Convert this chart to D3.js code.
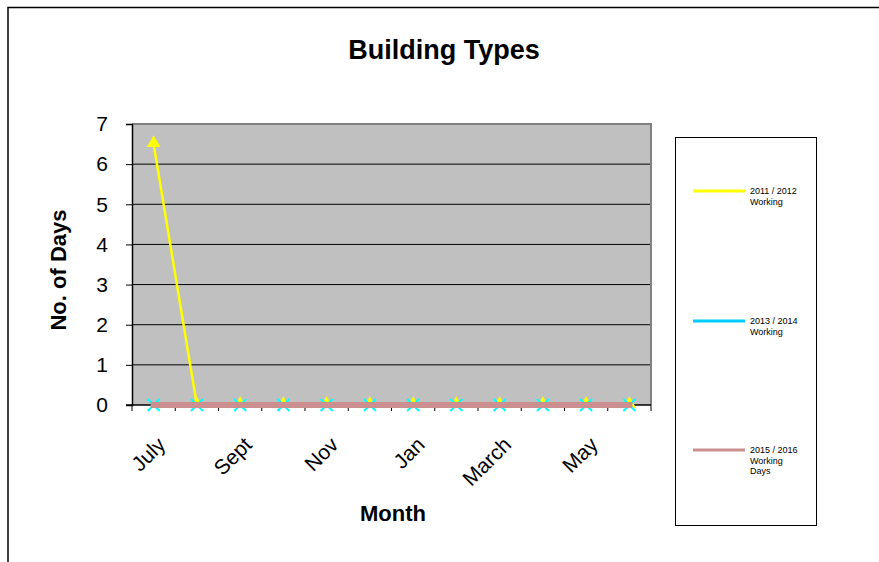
<!DOCTYPE html>
<html><head><meta charset="utf-8">
<script src="https://cdn.jsdelivr.net/npm/d3@7"></script>
<style>body{margin:0;background:#fff}svg{display:block;font-family:"Liberation Sans",Arial,sans-serif}</style>
</head><body>
<script>
const months = ["July","Aug","Sept","Oct","Nov","Dec","Jan","Feb","March","April","May","June"];
const shownLabels = ["July","Sept","Nov","Jan","March","May"];
const s2011 = [6.5,0,0,0,0,0,0,0,0,0,0,0];
const s2013 = [0,0,0,0,0,0,0,0,0,0,0,0];
const s2015 = [0,0,0,0,0,0,0,0,0,0,0,0];
const yTicks = [0,1,2,3,4,5,6,7];
const seriesNames = [["2011 / 2012","Working"],["2013 / 2014","Working"],["2015 / 2016","Working","Days"]];

const W=879,H=562;
const svg=d3.select("body").append("svg").attr("width",W).attr("height",H);
// outer frame
svg.append("path").attr("d","M8,562V7.5H879").attr("fill","none").attr("stroke","#000").attr("stroke-width",1.5);

const L=132,R=651,T=124,B=405;
const x=d3.scaleBand().domain(months).range([L,R]);
const y=d3.scaleLinear().domain([0,7]).range([B,T]);
const cx=m=>x(m)+x.bandwidth()/2;

svg.append("rect").attr("x",L).attr("y",T).attr("width",R-L).attr("height",B-T).attr("fill","#C0C0C0");
// gridlines
svg.append("g").selectAll("line").data(yTicks.filter(d=>d>0&&d<7)).join("line")
 .attr("x1",L).attr("x2",R).attr("y1",d=>y(d)).attr("y2",d=>y(d)).attr("stroke","#000").attr("stroke-width",1);
// plot border top/right
svg.append("path").attr("d",`M${L},${T}H${R}V${B}`).attr("fill","none").attr("stroke","#808080").attr("stroke-width",2);

// y axis
const ya=svg.append("g").attr("transform",`translate(${L},0)`).call(d3.axisLeft(y).tickValues(yTicks).tickSize(6).tickFormat(d3.format("d")));
ya.select(".domain").attr("stroke","#000").attr("stroke-width",1.5);
ya.selectAll(".tick line").attr("stroke","#000");
ya.selectAll("text").attr("font-size",21).attr("font-family","Liberation Sans, Arial").attr("fill","#000").attr("x",-24);

// x axis
const xa=svg.append("g").attr("transform",`translate(0,${B})`);
xa.append("line").attr("x1",L-6).attr("x2",R).attr("stroke","#000").attr("stroke-width",1.5);
xa.selectAll("line.tk").data(d3.range(months.length+1)).join("line").attr("class","tk")
 .attr("x1",i=>L+i*x.step()).attr("x2",i=>L+i*x.step()).attr("y1",0).attr("y2",6).attr("stroke","#000");
xa.selectAll("text").data(shownLabels).join("text")
 .attr("transform",d=>`translate(${cx(d)+13},${41}) rotate(-45)`)
 .attr("text-anchor","end").attr("font-size",21).attr("fill","#000").text(d=>d);

const line=d3.line().x((d,i)=>cx(months[i])).y(d=>y(d));
// yellow series
svg.append("path").datum(s2011).attr("d",line).attr("fill","none").attr("stroke","#FFFF00").attr("stroke-width",2.5);
const tri=d3.symbol().type(d3.symbolTriangle).size(80);
svg.append("g").selectAll("path").data(s2011).join("path")
 .attr("d",tri).attr("transform",(d,i)=>`translate(${cx(months[i])},${y(d)-1})`).attr("fill","#FFFF00");
// cyan series
svg.append("path").datum(s2013).attr("d",line).attr("fill","none").attr("stroke","#00CCFF").attr("stroke-width",2.5);
svg.append("g").selectAll("path").data(s2013).join("path")
 .attr("d","M-6,-6L6,6M-6,6L6,-6").attr("transform",(d,i)=>`translate(${cx(months[i])},${y(d)})`)
 .attr("stroke","#00FFFF").attr("stroke-width",2).attr("fill","none");
// pink series
svg.append("path").datum(s2015).attr("d",line).attr("fill","none").attr("stroke","#CC8F8F").attr("stroke-width",6).attr("stroke-linecap","square");

// titles
svg.append("text").attr("x",444).attr("y",59).attr("text-anchor","middle").attr("font-size",27).attr("font-weight","bold").text("Building Types");
svg.append("text").attr("transform","translate(66,270) rotate(-90)").attr("text-anchor","middle").attr("font-size",22).attr("font-weight","bold").text("No. of Days");
svg.append("text").attr("x",393).attr("y",521).attr("text-anchor","middle").attr("font-size",22).attr("font-weight","bold").text("Month");

// legend
svg.append("rect").attr("x",675.5).attr("y",137.5).attr("width",141).attr("height",388).attr("fill","#fff").attr("stroke","#000").attr("stroke-width",1);
const lcol=["#FFFF00","#00CCFF","#CC8F8F"];
const ly=[191,321,450];
seriesNames.forEach((nm,i)=>{
 svg.append("line").attr("x1",693).attr("x2",745).attr("y1",ly[i]).attr("y2",ly[i]).attr("stroke",lcol[i]).attr("stroke-width",3);
 const t=svg.append("text").attr("x",750).attr("y",ly[i]+3).attr("font-size",9).attr("fill","#000");
 nm.forEach((s,j)=>t.append("tspan").attr("x",750).attr("dy",j?10.5:0).text(s));
});
</script>
</body></html>
